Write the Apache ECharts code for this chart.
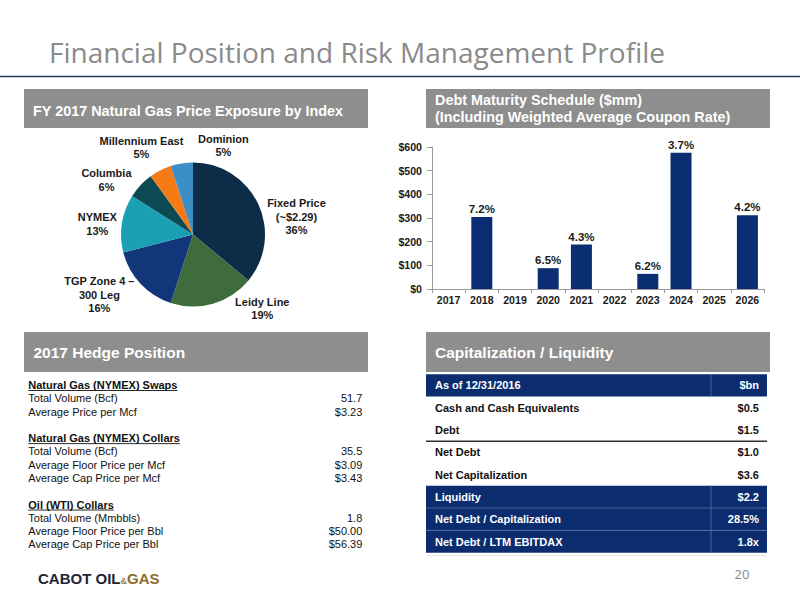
<!DOCTYPE html>
<html>
<head>
<meta charset="utf-8">
<script src="https://cdn.jsdelivr.net/npm/echarts@6/dist/echarts.min.js"></script>
<style>
html,body{margin:0;padding:0;background:#ffffff;}
#chart{width:800px;height:600px;}
</style>
</head>
<body>
<div id="chart"></div>
<script>
// ---------- DATA ----------
const pieNames = ['Fixed Price\n(~$2.29)', 'Leidy Line', 'TGP Zone 4 –\n300 Leg', 'NYMEX', 'Columbia', 'Millennium East', 'Dominion'];
const pieShares = [36, 19, 16, 13, 6, 5, 5];

const debtYears = ['2017', '2018', '2019', '2020', '2021', '2022', '2023', '2024', '2025', '2026'];
const debtMaturities = [null, 304, null, 88, 188, null, 64, 576, null, 312];
const couponRates = [null, '7.2%', null, '6.5%', '4.3%', null, '6.2%', '3.7%', null, '4.2%'];

const hedgeSections = ['Natural Gas (NYMEX) Swaps', 'Natural Gas (NYMEX) Collars', 'Oil (WTI) Collars'];
const hedgeLabels = [
  ['Total Volume (Bcf)', 'Average Price per Mcf'],
  ['Total Volume (Bcf)', 'Average Floor Price per Mcf', 'Average Cap Price per Mcf'],
  ['Total Volume (Mmbbls)', 'Average Floor Price per Bbl', 'Average Cap Price per Bbl']
];
const hedgeValues = [
  ['51.7', '$3.23'],
  ['35.5', '$3.09', '$3.43'],
  ['1.8', '$50.00', '$56.39']
];

const capLabels = ['As of 12/31/2016', 'Cash and Cash Equivalents', 'Debt', 'Net Debt', 'Net Capitalization', 'Liquidity', 'Net Debt / Capitalization', 'Net Debt / LTM EBITDAX'];
const capValues = ['$bn', '$0.5', '$1.5', '$1.0', '$3.6', '$2.2', '28.5%', '1.8x'];

// ---------- STYLE ----------
const FONT = "'Liberation Sans', Arial, Helvetica, sans-serif";
const TITLE_FONT = "'Open Sans', 'Liberation Sans', Arial, sans-serif";
const NAVY = '#0b2c6f';
const GRAY = '#8e8e8e';
const pieColors = ['#0d2c48', '#3f6c3d', '#13357a', '#1b9fb3', '#0c4a53', '#f47b16', '#3a8fc8'];
const pieLabelNudge = [[4, 13], [17, 5], [-1, 11], [0, 1], [-4, -5], [28, -23], [72, -18]];
const capNavyRows = [true, false, false, false, false, true, true, true];

const measureCtx = document.createElement('canvas').getContext('2d');
function textWidth(str, font) { measureCtx.font = font; return measureCtx.measureText(str).width; }

// ---------- GRAPHIC ELEMENTS ----------
const g = [];
g.push({ type: 'text', left: 49, top: 38, style: { text: 'Financial Position and Risk Management Profile', font: '28px ' + TITLE_FONT, fill: '#8a8a8a' } });
g.push({ type: 'line', shape: { x1: 0, y1: 76.5, x2: 800, y2: 76.5 }, style: { stroke: '#1f3b5e', lineWidth: 1.5 } });

function header(x, y, w, h) { g.push({ type: 'rect', shape: { x: x, y: y, width: w, height: h }, style: { fill: GRAY } }); }
header(24, 89, 344, 39);
header(426, 89, 344, 39);
header(24, 332, 344, 40);
header(426, 332, 344, 40);
g.push({ type: 'text', x: 33, y: 110.7, style: { text: 'FY 2017 Natural Gas Price Exposure by Index', font: 'bold 14.4px ' + FONT, fill: '#fff', verticalAlign: 'middle' } });
g.push({ type: 'text', x: 435, y: 100, style: { text: 'Debt Maturity Schedule ($mm)', font: 'bold 14.4px ' + FONT, fill: '#fff', verticalAlign: 'middle' } });
g.push({ type: 'text', x: 435, y: 117.3, style: { text: '(Including Weighted Average Coupon Rate)', font: 'bold 14.4px ' + FONT, fill: '#fff', verticalAlign: 'middle' } });
g.push({ type: 'text', x: 33.5, y: 352.7, style: { text: '2017 Hedge Position', font: 'bold 15.5px ' + FONT, fill: '#fff', verticalAlign: 'middle' } });
g.push({ type: 'text', x: 435, y: 352.7, style: { text: 'Capitalization / Liquidity', font: 'bold 15.5px ' + FONT, fill: '#fff', verticalAlign: 'middle' } });

// hedge table
(function () {
  const lh = 13.28;
  let line = 0;
  hedgeSections.forEach(function (sec, si) {
    const y = 385 + line * lh;
    const f = 'bold 11px ' + FONT;
    g.push({ type: 'text', x: 28.3, y: y, style: { text: sec, font: f, fill: '#111', verticalAlign: 'middle' } });
    g.push({ type: 'line', shape: { x1: 28.3, y1: y + 5.5, x2: 28.3 + textWidth(sec, 'bold 11px Liberation Sans'), y2: y + 5.5 }, style: { stroke: '#111', lineWidth: 0.9 } });
    line++;
    hedgeLabels[si].forEach(function (lab, li) {
      const yy = 385 + line * lh;
      g.push({ type: 'text', x: 28.3, y: yy, style: { text: lab, font: '11px ' + FONT, fill: '#111', verticalAlign: 'middle' } });
      g.push({ type: 'text', x: 362.3, y: yy, style: { text: hedgeValues[si][li], font: '11px ' + FONT, fill: '#111', align: 'right', verticalAlign: 'middle' } });
      line++;
    });
    line++;
  });
})();

// capitalization table
(function () {
  const top = 374.3, rh = 22.3, x0 = 426, x1 = 767, divX = 711;
  capLabels.forEach(function (lab, i) {
    const y = top + i * rh;
    const navy = capNavyRows[i];
    if (navy) {
      g.push({ type: 'rect', shape: { x: x0, y: y, width: x1 - x0, height: rh }, style: { fill: NAVY } });
      g.push({ type: 'line', shape: { x1: divX, y1: y, x2: divX, y2: y + rh }, style: { stroke: '#5d70a0', lineWidth: 0.8 } });
      if (i > 0 && capNavyRows[i - 1]) {
        g.push({ type: 'line', shape: { x1: x0, y1: y, x2: x1, y2: y }, style: { stroke: '#5d70a0', lineWidth: 0.8 } });
      }
    }
    const col = navy ? '#ffffff' : '#111111';
    g.push({ type: 'text', x: 435, y: y + rh / 2, style: { text: lab, font: 'bold 11px ' + FONT, fill: col, verticalAlign: 'middle' } });
    g.push({ type: 'text', x: 759, y: y + rh / 2, style: { text: capValues[i], font: 'bold 11px ' + FONT, fill: col, align: 'right', verticalAlign: 'middle' } });
  });
  const yDebt = top + 3 * rh;
  g.push({ type: 'line', shape: { x1: x0, y1: yDebt, x2: x1, y2: yDebt }, style: { stroke: '#333', lineWidth: 1.4 } });
  g.push({ type: 'line', shape: { x1: x0, y1: top + 8 * rh + 3, x2: x1, y2: top + 8 * rh + 3 }, style: { stroke: '#e4e4e4', lineWidth: 1 } });
})();

// footer
g.push({ type: 'text', x: 38, y: 578, style: {
  text: '{a|CABOT OIL}{b|&}{c|GAS}', verticalAlign: 'middle',
  rich: {
    a: { font: 'bold 15px ' + FONT, fill: '#1b2535' },
    b: { font: 'bold 9px ' + FONT, fill: '#9a8350', verticalAlign: 'bottom' },
    c: { font: 'bold 15px ' + FONT, fill: '#8c6c2a' }
  }
} });
g.push({ type: 'text', x: 742, y: 574, style: { text: '20', font: '13px ' + TITLE_FONT, fill: '#888', align: 'center', verticalAlign: 'middle' } });

// ---------- CHART ----------
const chart = echarts.init(document.getElementById('chart'), null, { renderer: 'svg', width: 800, height: 600 });
const axisColor = '#9a9a9a';
const option = {
  animation: false,
  backgroundColor: '#ffffff',
  textStyle: { fontFamily: FONT },
  grid: { left: 432, top: 147, width: 332, height: 142, containLabel: false },
  xAxis: {
    type: 'category', data: debtYears,
    axisLine: { lineStyle: { color: axisColor } },
    axisTick: { show: true, length: 4, lineStyle: { color: axisColor } },
    axisLabel: { fontFamily: FONT, fontWeight: 'bold', fontSize: 10.6, color: '#1a1a1a', margin: 5 }
  },
  yAxis: {
    type: 'value', min: 0, max: 600, interval: 100,
    axisLine: { show: true, lineStyle: { color: axisColor } },
    axisTick: { show: true, length: 5, lineStyle: { color: axisColor } },
    splitLine: { show: false },
    axisLabel: { fontFamily: FONT, fontWeight: 'bold', fontSize: 10.6, color: '#1a1a1a', margin: 10, formatter: function (v) { return '$' + v; } }
  },
  series: [
    {
      type: 'pie',
      center: [193, 234.5],
      radius: 72,
      startAngle: 90,
      clockwise: true,
      avoidLabelOverlap: false,
      emphasis: { disabled: true },
      data: pieNames.map(function (n, i) { return { name: n, value: pieShares[i], itemStyle: { color: pieColors[i] } }; }),
      label: {
        position: 'outside',
        distanceToLabelLine: 5,
        formatter: function (p) {
          return (p.name + '\n' + p.value + '%').split('\n').map(function (s) { return '{c|' + s + '}'; }).join('\n');
        },
        rich: { c: { fontFamily: FONT, fontSize: 11, fontWeight: 'bold', color: '#1a1a1a', align: 'center', lineHeight: 13.5 } }
      },
      labelLine: { show: false, length: 0, length2: 0 },
      labelLayout: function (p) { const n = pieLabelNudge[p.dataIndex]; return { dx: n[0], dy: n[1] }; }
    },
    {
      type: 'bar',
      data: debtMaturities,
      barWidth: 21,
      itemStyle: { color: '#0b2d72' },
      emphasis: { disabled: true },
      label: {
        show: true, position: 'top', distance: 2,
        fontFamily: FONT, fontWeight: 'bold', fontSize: 11.5, color: '#1a1a1a',
        formatter: function (p) { return couponRates[p.dataIndex] || ''; }
      }
    }
  ],
  graphic: g
};
chart.setOption(option);
</script>
</body>
</html>
